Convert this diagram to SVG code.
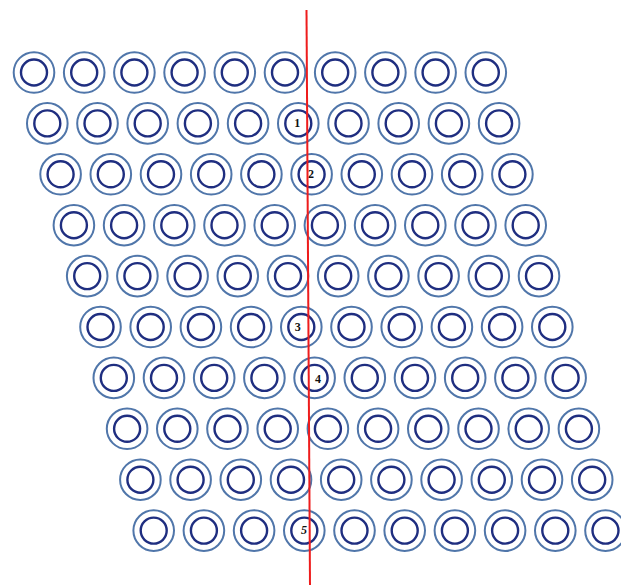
<svg xmlns="http://www.w3.org/2000/svg" xmlns:xlink="http://www.w3.org/1999/xlink" width="621" height="585" viewBox="0 0 621 585">
<style>
.o{fill:none;stroke:#5076aa;stroke-width:2}
.i{fill:none;stroke:#1f2e80;stroke-width:2.4}
.lb{font-family:"Liberation Serif","Times New Roman",serif;font-weight:bold;font-size:12px;fill:#111;text-anchor:middle}
.cut{stroke:#ee1c1c;stroke-width:2;fill:none}
</style>
<defs>
<g id="tube"><circle class="o" cx="0" cy="0" r="20.3"/><circle class="i" cx="0" cy="0" r="13"/></g>
</defs>
<rect width="621" height="585" fill="#fff"/>
<g id="row1" transform="translate(34,72.5)">
<g id="t1-1"><use href="#tube" x="0"/></g><g id="t1-2"><use href="#tube" x="50.2"/></g><g id="t1-3"><use href="#tube" x="100.4"/></g><g id="t1-4"><use href="#tube" x="150.6"/></g><g id="t1-5"><use href="#tube" x="200.8"/></g><g id="t1-6"><use href="#tube" x="251"/></g><g id="t1-7"><use href="#tube" x="301.2"/></g><g id="t1-8"><use href="#tube" x="351.4"/></g><g id="t1-9"><use href="#tube" x="401.6"/></g><g id="t1-10"><use href="#tube" x="451.8"/></g>
</g>
<g id="row2" transform="translate(47.3,123.4)">
<g id="t2-1"><use href="#tube" x="0"/></g><g id="t2-2"><use href="#tube" x="50.2"/></g><g id="t2-3"><use href="#tube" x="100.4"/></g><g id="t2-4"><use href="#tube" x="150.6"/></g><g id="t2-5"><use href="#tube" x="200.8"/></g><g id="t2-6"><use href="#tube" x="251"/><text class="lb" x="250" y="4">1</text></g><g id="t2-7"><use href="#tube" x="301.2"/></g><g id="t2-8"><use href="#tube" x="351.4"/></g><g id="t2-9"><use href="#tube" x="401.6"/></g><g id="t2-10"><use href="#tube" x="451.8"/></g>
</g>
<g id="row3" transform="translate(60.6,174.3)">
<g id="t3-1"><use href="#tube" x="0"/></g><g id="t3-2"><use href="#tube" x="50.2"/></g><g id="t3-3"><use href="#tube" x="100.4"/></g><g id="t3-4"><use href="#tube" x="150.6"/></g><g id="t3-5"><use href="#tube" x="200.8"/></g><g id="t3-6"><use href="#tube" x="251"/><text class="lb" x="250.5" y="4">2</text></g><g id="t3-7"><use href="#tube" x="301.2"/></g><g id="t3-8"><use href="#tube" x="351.4"/></g><g id="t3-9"><use href="#tube" x="401.6"/></g><g id="t3-10"><use href="#tube" x="451.8"/></g>
</g>
<g id="row4" transform="translate(73.9,225.2)">
<g id="t4-1"><use href="#tube" x="0"/></g><g id="t4-2"><use href="#tube" x="50.2"/></g><g id="t4-3"><use href="#tube" x="100.4"/></g><g id="t4-4"><use href="#tube" x="150.6"/></g><g id="t4-5"><use href="#tube" x="200.8"/></g><g id="t4-6"><use href="#tube" x="251"/></g><g id="t4-7"><use href="#tube" x="301.2"/></g><g id="t4-8"><use href="#tube" x="351.4"/></g><g id="t4-9"><use href="#tube" x="401.6"/></g><g id="t4-10"><use href="#tube" x="451.8"/></g>
</g>
<g id="row5" transform="translate(87.2,276.1)">
<g id="t5-1"><use href="#tube" x="0"/></g><g id="t5-2"><use href="#tube" x="50.2"/></g><g id="t5-3"><use href="#tube" x="100.4"/></g><g id="t5-4"><use href="#tube" x="150.6"/></g><g id="t5-5"><use href="#tube" x="200.8"/></g><g id="t5-6"><use href="#tube" x="251"/></g><g id="t5-7"><use href="#tube" x="301.2"/></g><g id="t5-8"><use href="#tube" x="351.4"/></g><g id="t5-9"><use href="#tube" x="401.6"/></g><g id="t5-10"><use href="#tube" x="451.8"/></g>
</g>
<g id="row6" transform="translate(100.5,327)">
<g id="t6-1"><use href="#tube" x="0"/></g><g id="t6-2"><use href="#tube" x="50.2"/></g><g id="t6-3"><use href="#tube" x="100.4"/></g><g id="t6-4"><use href="#tube" x="150.6"/></g><g id="t6-5"><use href="#tube" x="200.8"/><text class="lb" x="197.3" y="3.5">3</text></g><g id="t6-6"><use href="#tube" x="251"/></g><g id="t6-7"><use href="#tube" x="301.2"/></g><g id="t6-8"><use href="#tube" x="351.4"/></g><g id="t6-9"><use href="#tube" x="401.6"/></g><g id="t6-10"><use href="#tube" x="451.8"/></g>
</g>
<g id="row7" transform="translate(113.8,377.9)">
<g id="t7-1"><use href="#tube" x="0"/></g><g id="t7-2"><use href="#tube" x="50.2"/></g><g id="t7-3"><use href="#tube" x="100.4"/></g><g id="t7-4"><use href="#tube" x="150.6"/></g><g id="t7-5"><use href="#tube" x="200.8"/><text class="lb" x="204.3" y="5">4</text></g><g id="t7-6"><use href="#tube" x="251"/></g><g id="t7-7"><use href="#tube" x="301.2"/></g><g id="t7-8"><use href="#tube" x="351.4"/></g><g id="t7-9"><use href="#tube" x="401.6"/></g><g id="t7-10"><use href="#tube" x="451.8"/></g>
</g>
<g id="row8" transform="translate(127.1,428.8)">
<g id="t8-1"><use href="#tube" x="0"/></g><g id="t8-2"><use href="#tube" x="50.2"/></g><g id="t8-3"><use href="#tube" x="100.4"/></g><g id="t8-4"><use href="#tube" x="150.6"/></g><g id="t8-5"><use href="#tube" x="200.8"/></g><g id="t8-6"><use href="#tube" x="251"/></g><g id="t8-7"><use href="#tube" x="301.2"/></g><g id="t8-8"><use href="#tube" x="351.4"/></g><g id="t8-9"><use href="#tube" x="401.6"/></g><g id="t8-10"><use href="#tube" x="451.8"/></g>
</g>
<g id="row9" transform="translate(140.4,479.7)">
<g id="t9-1"><use href="#tube" x="0"/></g><g id="t9-2"><use href="#tube" x="50.2"/></g><g id="t9-3"><use href="#tube" x="100.4"/></g><g id="t9-4"><use href="#tube" x="150.6"/></g><g id="t9-5"><use href="#tube" x="200.8"/></g><g id="t9-6"><use href="#tube" x="251"/></g><g id="t9-7"><use href="#tube" x="301.2"/></g><g id="t9-8"><use href="#tube" x="351.4"/></g><g id="t9-9"><use href="#tube" x="401.6"/></g><g id="t9-10"><use href="#tube" x="451.8"/></g>
</g>
<g id="row10" transform="translate(153.7,530.6)">
<g id="t10-1"><use href="#tube" x="0"/></g><g id="t10-2"><use href="#tube" x="50.2"/></g><g id="t10-3"><use href="#tube" x="100.4"/></g><g id="t10-4"><use href="#tube" x="150.6"/><text class="lb" x="150.3" y="3.5" font-style="italic">5</text></g><g id="t10-5"><use href="#tube" x="200.8"/></g><g id="t10-6"><use href="#tube" x="251"/></g><g id="t10-7"><use href="#tube" x="301.2"/></g><g id="t10-8"><use href="#tube" x="351.4"/></g><g id="t10-9"><use href="#tube" x="401.6"/></g><g id="t10-10"><use href="#tube" x="451.8"/></g>
</g>
<g id="connectors">
<line class="cut" x1="306.5" y1="10" x2="310" y2="585"/>
</g>
</svg>
